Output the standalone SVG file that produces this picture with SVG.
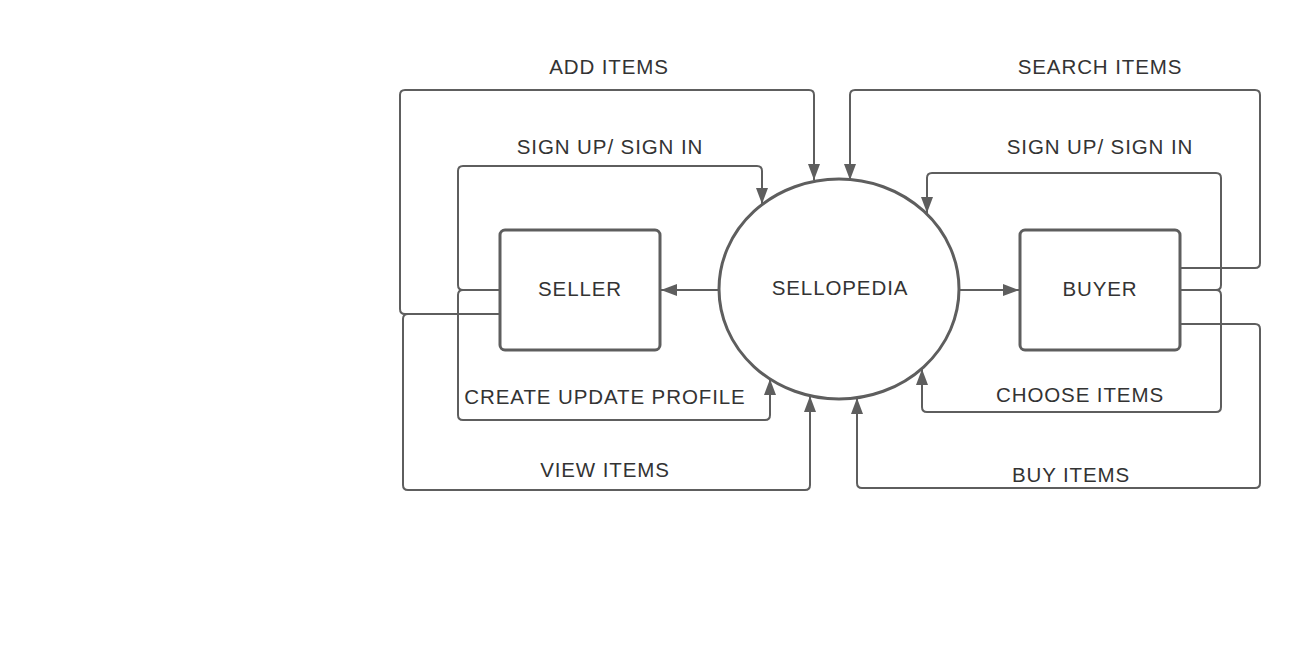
<svg xmlns="http://www.w3.org/2000/svg" width="1300" height="668" viewBox="0 0 1300 668">
<style>
.bg{fill:#ffffff}
.node{fill:#ffffff;stroke:#5e5e5e;stroke-width:3}
.conn{fill:none;stroke:#5e5e5e;stroke-width:2;stroke-linejoin:round}
.lbl{font-family:"Liberation Sans",Arial,sans-serif;font-size:20.5px;fill:#333333;text-anchor:middle;letter-spacing:0.9px}
</style>
<defs>
<marker id="ah" markerWidth="17" markerHeight="13" refX="16" refY="6" orient="auto" markerUnits="userSpaceOnUse">
<path d="M0,0 L16,6 L0,12 z" fill="#5e5e5e"/>
</marker>
</defs>
<rect class="bg" x="0" y="0" width="1300" height="668"/>
<g id="connectors">
<path class="conn" marker-end="url(#ah)" d="M720,290 L661,290"/>
<path class="conn" marker-end="url(#ah)" d="M960,290 L1019,290"/>
<path class="conn" marker-end="url(#ah)" d="M500,314 L405,314 Q400,314 400,309 L400,95 Q400,90 405,90 L809,90 Q814,90 814,95 L814,180"/>
<path class="conn" marker-end="url(#ah)" d="M500,290 L463,290 Q458,290 458,285 L458,171 Q458,166 463,166 L757,166 Q762,166 762,171 L762,204"/>
<path class="conn" marker-end="url(#ah)" d="M500,290 L463,290 Q458,290 458,295 L458,415 Q458,420 463,420 L765,420 Q770,420 770,415 L770,379"/>
<path class="conn" marker-end="url(#ah)" d="M500,314 L408,314 Q403,314 403,319 L403,485 Q403,490 408,490 L805,490 Q810,490 810,485 L810,396"/>
<path class="conn" marker-end="url(#ah)" d="M1180,268 L1255,268 Q1260,268 1260,263 L1260,95 Q1260,90 1255,90 L855,90 Q850,90 850,95 L850,180"/>
<path class="conn" marker-end="url(#ah)" d="M1180,290 L1216,290 Q1221,290 1221,285 L1221,178 Q1221,173 1216,173 L932,173 Q927,173 927,178 L927,213"/>
<path class="conn" marker-end="url(#ah)" d="M1180,290 L1216,290 Q1221,290 1221,295 L1221,407 Q1221,412 1216,412 L927,412 Q922,412 922,407 L922,369"/>
<path class="conn" marker-end="url(#ah)" d="M1180,324 L1255,324 Q1260,324 1260,329 L1260,483 Q1260,488 1255,488 L862,488 Q857,488 857,483 L857,398"/>
</g>
<g id="seller">
<rect class="node" x="500" y="230" width="160" height="120" rx="5"/>
<text class="lbl" x="580" y="296">SELLER</text>
</g>
<g id="sellopedia">
<ellipse class="node" cx="839" cy="289" rx="120" ry="110"/>
<text class="lbl" x="840" y="295">SELLOPEDIA</text>
</g>
<g id="buyer">
<rect class="node" x="1020" y="230" width="160" height="120" rx="5"/>
<text class="lbl" x="1100" y="296">BUYER</text>
</g>
<g id="labels">
<text class="lbl" x="609" y="74">ADD ITEMS</text>
<text class="lbl" x="610" y="154">SIGN UP/ SIGN IN</text>
<text class="lbl" x="605" y="404">CREATE UPDATE PROFILE</text>
<text class="lbl" x="605" y="477">VIEW ITEMS</text>
<text class="lbl" x="1100" y="74">SEARCH ITEMS</text>
<text class="lbl" x="1100" y="154">SIGN UP/ SIGN IN</text>
<text class="lbl" x="1080" y="402">CHOOSE ITEMS</text>
<text class="lbl" x="1071" y="482">BUY ITEMS</text>
</g>
</svg>
